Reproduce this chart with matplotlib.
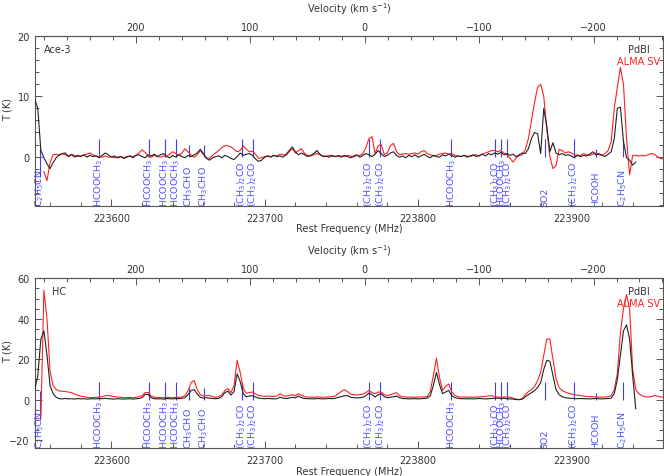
import matplotlib
matplotlib.use("Agg")
import matplotlib.pyplot as plt
import matplotlib.transforms as mtransforms
from matplotlib.ticker import MultipleLocator, FixedLocator
import numpy as np

nan = np.nan
C_KMS = 299792.458
F_REST = 223765.3  # MHz, zero of the velocity axis

# channels (MHz)
freq = np.arange(223550, 223961, 2)

# Ace-3 spectra (K)
ace3_pdbi = [9.5, 8.0, 1.0, -0.2, -1.2, -2.0, -1.0, -0.2, 0.3, 0.5,
             0.6, 0.0, 0.3, -0.1, 0.2, 0.0, 0.3, -0.1, 0.2, 0.0,
             0.1, -0.2, 0.2, 0.6, 0.3, -0.1, 0.1, -0.2, 0.0, -0.3,
             -0.1, 0.1, -0.2, 0.2, 0.3, 0.0, -0.2, 0.3, 0.1, 0.4,
             0.0, 0.3, 0.5, 0.0, -0.2, 0.2, -0.1, 0.3, 0.0, -0.2,
             0.2, 0.0, 0.3, 0.6, 1.2, 0.5, -0.3, -0.6, -0.2, 0.0,
             0.1, -0.2, 0.2, 0.0, -0.3, -0.5, 0.0, 0.6, 0.2, 0.4,
             0.5, 0.2, -0.4, -0.8, -0.6, -0.1, 0.1, -0.1, 0.2, 0.0,
             0.1, -0.1, 0.4, 1.0, 1.6, 0.8, 0.3, 0.6, 0.3, 0.0,
             0.2, 0.5, 1.0, 0.4, 0.0, 0.1, -0.1, 0.2, 0.0, 0.1,
             -0.1, 0.2, 0.0, -0.2, 0.1, 0.3, -0.1, 0.2, 0.5, 0.3,
             0.0, 0.4, 1.0, 0.5, 0.0, 0.2, 0.6, 0.8, 0.2, -0.1,
             0.1, -0.2, 0.2, 0.0, 0.3, -0.1, 0.1, 0.4, 0.0, -0.2,
             0.2, 0.0, -0.1, 0.3, 0.1, 0.4, 0.2, -0.1, 0.1, 0.0,
             0.2, -0.1, 0.1, 0.3, 0.0, 0.2, 0.4, 0.1, 0.5, 0.3,
             0.6, 0.4, 0.7, 0.3, 0.5, 0.2, 0.4, 0.0, 0.3, 0.6,
             0.5, 1.3, 3.0, 4.0, 3.8, 0.5, 8.0, 5.0, 0.8, 2.3,
             0.6, 0.3, 0.5, 0.2, 0.3, 0.1, -0.2, 0.3, 0.0, 0.2,
             0.1, 0.4, 0.8, 0.3, 0.5, 0.2, 0.0, 0.4, 0.8, 3.0,
             8.0, 8.2, 2.5, -0.2, -0.6, -1.4, -0.9, nan, nan, nan,
             nan, nan, nan, nan, nan, nan]
ace3_alma = [nan, nan, nan, -2.5, -4.0, -1.0, 0.3, 0.4, 0.2, 0.5,
             0.3, 0.1, 0.4, 0.2, 0.0, 0.1, 0.3, 0.4, 0.6, 0.3,
             0.1, 0.0, -0.1, 0.1, -0.1, 0.0, -0.2, -0.1, 0.0, -0.2,
             0.0, 0.1, 0.0, 0.2, 0.6, 1.1, 0.7, 0.0, -0.1, 0.2,
             0.0, -0.1, 0.1, 0.0, 0.4, 0.8, 0.5, 0.2, 0.6, 1.3,
             0.8, 0.2, -0.1, 0.3, 1.0, 0.4, -0.2, -0.3, 0.2, 0.6,
             1.0, 1.5, 1.8, 1.8, 1.6, 1.2, 0.8, 1.0, 1.8, 1.2,
             0.8, 0.9, 0.4, -0.3, -0.2, 0.0, 0.1, 0.0, 0.2, 0.1,
             0.4, 0.3, 0.2, 0.8, 1.3, 0.6, 1.0, 1.3, 0.5, 0.2,
             0.1, 0.3, 0.5, 0.3, 0.1, 0.0, 0.2, 0.1, 0.0, 0.2,
             0.1, 0.0, 0.2, 0.1, -0.1, 0.2, 0.2, 0.5, 1.5, 3.0,
             3.3, 0.5, 1.8, 2.0, 0.3, 0.6, 1.8, 2.2, 0.8, 0.3,
             0.4, 0.5, 0.4, 0.5, 0.6, 0.4, 0.8, 1.0, 0.5, 0.3,
             0.1, 0.2, 0.4, 0.5, 0.6, 0.4, 0.5, 0.2, 0.1, 0.0,
             0.2, 0.1, 0.0, 0.2, 0.3, 0.1, 0.4, 0.6, 0.8, 1.0,
             1.0, 0.8, 1.0, 0.6, 0.3, -0.3, -0.9, -0.2, 0.2, 0.3,
             1.2, 3.0, 6.0, 9.0, 11.5, 12.0, 10.0, 4.5, 0.0, -2.0,
             -1.5, 1.2, 1.0, 0.6, 0.8, 0.6, 0.3, 0.1, 0.2, 0.5,
             0.3, 0.2, 0.4, 0.6, 0.3, 0.2, 0.5, 1.0, 2.5, 8.0,
             11.5, 14.8, 12.0, 3.0, -3.0, 0.2, 0.2, 0.1, 0.2, 0.1,
             0.3, 0.5, 0.4, 0.0, -0.3, -0.4]

# HC spectra (K)
hc_pdbi = [5.0, 12.0, 30.0, 34.0, 22.0, 7.0, 3.0, 1.2, 0.5, 0.4,
           0.6, 0.4, 0.5, 0.3, 0.6, 0.4, 0.5, 0.3, 0.4, 0.5,
           0.4, 0.6, 0.5, 0.7, 0.5, 0.4, 0.3, 0.5, 0.4, 0.3,
           0.4, 0.5, 0.3, 0.5, 0.6, 1.0, 2.6, 2.6, 1.0, 0.5,
           0.4, 0.5, 0.3, 0.6, 0.5, 0.4, 0.6, 0.5, 0.7, 1.0,
           2.5, 4.5, 5.0, 2.8, 1.2, 0.8, 1.0, 0.8, 0.6, 0.5,
           0.7, 1.5, 3.5, 4.2, 2.3, 4.0, 12.8, 9.0, 3.0, 1.5,
           1.8, 2.0, 1.3, 0.8, 0.6, 0.5, 0.6, 0.5, 0.4, 0.5,
           1.2, 0.8, 0.6, 0.8, 1.2, 0.9, 1.8, 1.0, 0.6, 0.5,
           0.5, 0.4, 0.6, 0.5, 0.4, 0.5, 0.6, 0.5, 0.7, 1.2,
           1.5, 2.0, 2.0, 1.2, 1.0, 0.9, 1.0, 1.2, 2.0, 3.3,
           2.5, 1.3, 2.5, 3.0, 1.5, 1.0, 1.2, 1.4, 1.8, 1.0,
           0.6, 0.5, 0.4, 0.5, 0.5, 0.4, 0.5, 0.6, 0.8, 2.0,
           7.0, 13.5, 7.5, 3.0, 3.8, 4.6, 2.0, 1.0, 0.7, 0.5,
           0.5, 0.4, 0.5, 0.4, 0.5, 0.6, 0.5, 0.4, 0.5, 0.6,
           0.7, 0.8, 0.6, 0.7, 0.5, 0.4, 0.3, 0.1, 0.0, 0.3,
           1.5, 2.5, 3.5, 4.5, 6.0, 8.5, 15.0, 19.5, 19.0, 12.0,
           5.0, 2.5, 1.5, 1.0, 0.8, 0.7, 0.6, 0.5, 0.6, 0.5,
           0.5, 0.4, 0.5, 0.6, 0.5, 0.4, 0.5, 0.6, 0.8, 3.0,
           10.0, 22.0, 34.0, 37.0, 30.0, 12.0, -4.5, nan, nan, nan,
           nan, nan, nan, nan, nan, nan]
hc_alma = [nan, nan, -9.0, 54.0, 40.0, 14.0, 7.0, 5.0, 4.3, 4.2,
           4.0, 3.8, 3.5, 2.8, 2.2, 1.8, 1.5, 1.2, 1.0, 1.1,
           1.2, 1.3, 1.5, 2.0, 2.1, 1.8, 1.5, 1.3, 1.2, 1.1,
           1.0, 1.1, 1.0, 1.2, 1.5, 2.0, 3.5, 3.6, 1.8, 1.2,
           1.0, 1.1, 1.0, 1.2, 1.1, 1.0, 1.2, 1.1, 1.4, 2.0,
           4.5, 8.5, 9.5, 5.0, 2.5, 1.8, 2.0, 2.1, 1.5, 1.2,
           1.5, 2.5, 4.5, 5.5, 3.5, 7.0, 19.5, 13.5, 5.5, 3.2,
           3.5, 3.8, 2.8, 2.2, 1.8, 1.6, 1.8, 1.7, 1.6, 1.8,
           3.0, 2.0, 1.8, 2.0, 2.5, 1.9, 3.0, 2.2, 1.5, 1.3,
           1.3, 1.2, 1.4, 1.3, 1.2, 1.3, 1.4, 1.5, 1.8, 3.0,
           4.1, 5.0, 4.0, 2.8, 2.5, 2.3, 2.5, 2.8, 3.5, 4.6,
           3.5, 3.0, 3.8, 3.8, 2.5, 2.0, 2.5, 3.0, 3.5, 2.0,
           1.5, 1.3, 1.2, 1.3, 1.2, 1.3, 1.4, 1.3, 1.5, 4.0,
           12.0, 20.5, 11.0, 4.6, 6.5, 7.8, 3.8, 2.2, 1.5, 1.3,
           1.3, 1.2, 1.3, 1.2, 1.4, 1.3, 1.5, 1.6, 1.9, 2.0,
           1.5, 1.3, 1.2, 1.4, 1.3, 1.2, 0.8, 0.3, 0.1, 0.5,
           2.5, 4.0, 5.0, 6.5, 9.5, 13.5, 22.0, 30.0, 30.0, 20.0,
           10.5, 6.0, 4.5, 3.8, 3.2, 2.8, 2.5, 2.2, 2.0, 1.8,
           1.6, 1.5, 1.5, 1.4, 1.3, 1.3, 1.3, 1.5, 2.0, 5.0,
           13.0, 33.0, 45.0, 52.0, 45.0, 15.0, 5.0, 3.0, 2.0, 1.5,
           1.3, 1.5, 2.0, 1.8, 1.4, 1.2]

# line identifications
line_freq = [223553.4, 223592.0, 223624.6, 223634.7, 223642.2, 223650.3,
             223660.5, 223684.9, 223692.1, 223767.9, 223775.5, 223821.8,
             223850.5, 223854.4, 223858.3, 223882.6, 223901.6, 223915.9,
             223933.5]
line_name = ['C$_2$H$_5$CN', 'HCOOCH$_3$', 'HCOOCH$_3$', 'HCOOCH$_3$',
             'HCOOCH$_3$', 'CH$_3$CHO', 'CH$_3$CHO', '(CH$_3$)$_2$CO',
             '(CH$_3$)$_2$CO', '(CH$_3$)$_2$CO', '(CH$_3$)$_2$CO',
             'HCOOCH$_3$', '(CH$_3$)$_2$CO', 'HCOOCH$_3$', '(CH$_3$)$_2$CO',
             'SO2', '(CH$_3$)$_2$CO', 'HCOOH', 'C$_2$H$_5$CN']
line_strength = [0.5, 1, 1, 1, 1, 0.65, 0.65, 1, 1, 1, 1, 1, 1, 1, 1, 1, 1,
                 0.4, 1]
vel_ticks = [200, 100, 0, -100, -200]

TXT = '#333333'
BLUE = '#3c3cff'
plt.rcParams['font.size'] = 7
plt.rcParams['text.color'] = TXT
plt.rcParams['axes.labelcolor'] = TXT
plt.rcParams['xtick.color'] = '#555555'
plt.rcParams['ytick.color'] = '#555555'
plt.rcParams['xtick.labelcolor'] = TXT
plt.rcParams['ytick.labelcolor'] = TXT
plt.rcParams['axes.edgecolor'] = '#555555'
plt.rcParams['axes.linewidth'] = 0.8


def f2v(f):
    return C_KMS * (F_REST - f) / F_REST


def v2f(v):
    return F_REST * (1 - v / C_KMS)


def panel(ax, pdbi, alma, ylim, major, minor, name):
    span = ylim[1] - ylim[0]
    trans = mtransforms.blended_transform_factory(ax.transData, ax.transAxes)
    for i, (f, lab, s) in enumerate(zip(line_freq, line_name, line_strength)):
        lo = -0.12 * span if i == 0 else 0
        ax.vlines(f, lo, s * 0.105 * span, color=BLUE, lw=0.8, zorder=1)
        ax.text(f, 0.003, lab, transform=trans, rotation=90, ha='center',
                va='bottom', color='#5050ff', fontsize=6.8, zorder=1)
    ax.plot(freq, alma, color='#ff2020', lw=0.8, zorder=2)
    ax.plot(freq, pdbi, color='#222222', lw=0.8, zorder=3)
    ax.set_xlim(223550, 223960)
    ax.set_ylim(*ylim)
    ax.xaxis.set_major_locator(MultipleLocator(100))
    ax.xaxis.set_minor_locator(MultipleLocator(20))
    ax.yaxis.set_major_locator(MultipleLocator(major))
    ax.yaxis.set_minor_locator(MultipleLocator(minor))
    ax.xaxis.set_major_formatter(plt.FuncFormatter(lambda x, p: '%d' % x))
    ax.tick_params(which='both', direction='in', top=False, right=True)
    ax.tick_params(which='major', length=5, width=0.7)
    ax.tick_params(which='minor', length=2.8, width=0.7)
    ax.tick_params(axis='x', pad=5)
    ax.tick_params(axis='y', pad=3.5)
    ax.set_xlabel('Rest Frequency (MHz)', va='center')
    ax.xaxis.set_label_coords(0.5, -0.131)
    ax.set_ylabel('T (K)', va='center')
    ax.yaxis.set_label_coords(-0.0425, 0.574)

    sec = ax.secondary_xaxis('top', functions=(f2v, v2f))
    sec.xaxis.set_major_locator(FixedLocator(vel_ticks))
    sec.xaxis.set_minor_locator(MultipleLocator(20))
    sec.tick_params(which='both', direction='in', pad=2.8)
    sec.tick_params(which='major', length=5, width=0.7)
    sec.tick_params(which='minor', length=2.8, width=0.7)
    ax.text(0.5, 1.163, 'Velocity (km s$^{-1}$)', transform=ax.transAxes,
            ha='center', va='center')

    ax.text(0.015 if name == 'Ace-3' else 0.0275, 0.924, name,
            transform=ax.transAxes, va='center', ha='left')
    ax.text(0.979, 0.924, 'PdBI', transform=ax.transAxes, va='center', ha='right')
    ax.text(0.995, 0.853, 'ALMA SV', transform=ax.transAxes, va='center',
            ha='right', color='#ff2020')


fig = plt.figure(figsize=(6.64, 4.77), dpi=100)
ax1 = fig.add_axes([0.0523, 0.566, 0.9467, 0.3564])
ax2 = fig.add_axes([0.0523, 0.0581, 0.9467, 0.3564])
panel(ax1, ace3_pdbi, ace3_alma, (-8.2, 20), 10, 2, 'Ace-3')
panel(ax2, hc_pdbi, hc_alma, (-24, 60), 20, 5, 'HC')

fig.savefig('out.png', dpi=100)
